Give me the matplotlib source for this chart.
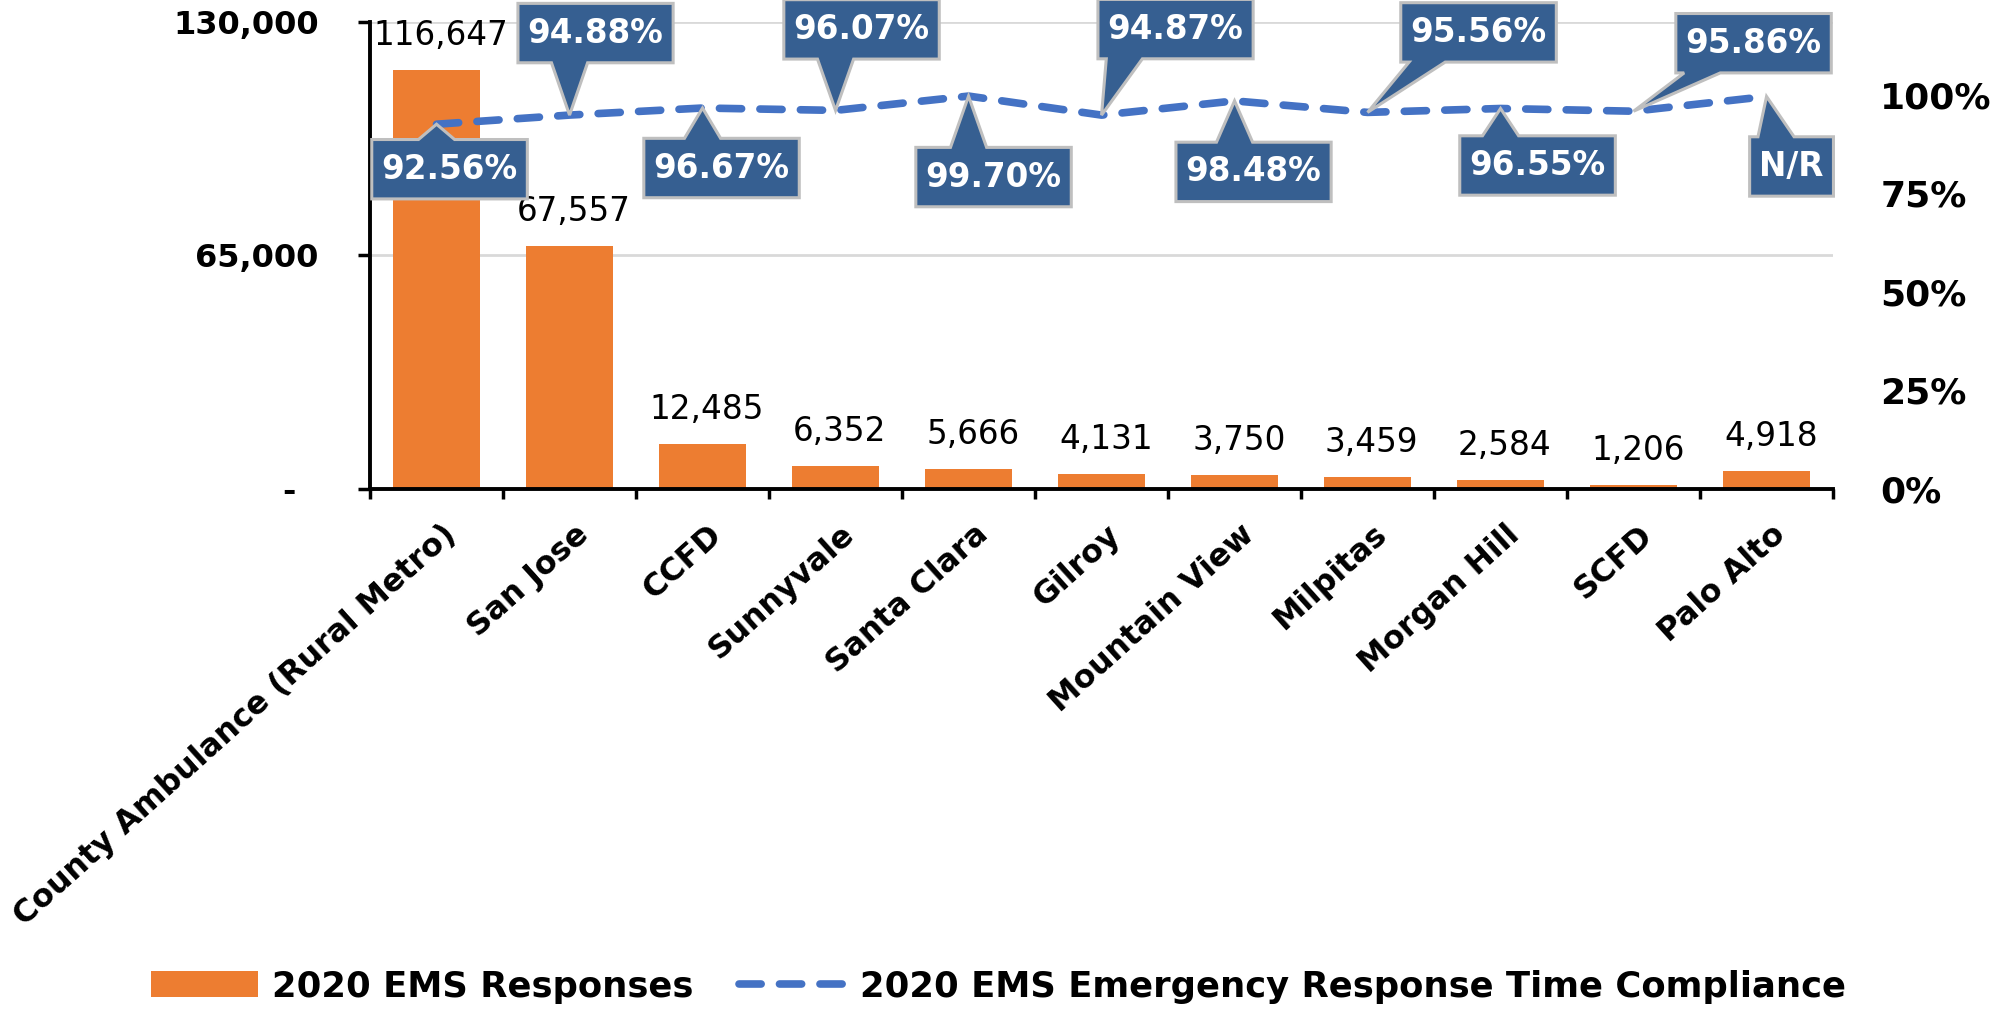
import numpy as np
import matplotlib
matplotlib.use('Agg')
import matplotlib.pyplot as plt
from matplotlib.patches import Polygon
from matplotlib.transforms import Affine2D, ScaledTranslation

# data
agencies = ['County Ambulance (Rural Metro)', 'San Jose', 'CCFD', 'Sunnyvale',
            'Santa Clara', 'Gilroy', 'Mountain View', 'Milpitas', 'Morgan Hill',
            'SCFD', 'Palo Alto']
responses = [116647, 67557, 12485, 6352, 5666, 4131, 3750, 3459, 2584, 1206, 4918]
compliance = [92.56, 94.88, 96.67, 96.07, 99.70, 94.87, 98.48, 95.56, 96.55, 95.86, 99.6]
compliance_labels = ['92.56%', '94.88%', '96.67%', '96.07%', '99.70%', '94.87%',
                     '98.48%', '95.56%', '96.55%', '95.86%', 'N/R']
left_ticks = [0, 65000, 130000]
left_ticklabels = ['-  ', '65,000', '130,000']
right_ticks = [0, 25, 50, 75, 100]

# callout box offsets from the point, in pixels (x right, y down)
callout_px = [(13, 45), (26, -82), (19, 60), (26, -81), (25, 81), (74, -86),
              (19, 71), (111, -80), (37, 57), (120, -68), (25, 70)]

orange = '#ED7D31'
blue = '#4472C4'
box_blue = '#365F91'

fig = plt.figure(figsize=(19.97, 10.09), dpi=100)
ax = fig.add_axes([0.1853, 0.5154, 0.7326, 0.4628])
x = np.arange(len(agencies))

bars = ax.bar(x, responses, width=0.66, color=orange, zorder=2,
              label='2020 EMS Responses')
for xi, v in zip(x, responses):
    ax.annotate(f'{v:,}', xy=(xi, v), xytext=(3, 18), textcoords='offset points',
                ha='center', va='baseline', fontsize=23.5, color='black')

ax.set_xlim(-0.5, len(agencies) - 0.5)
ax.set_ylim(0, 130000)
ax.set_yticks(left_ticks)
ax.set_yticklabels(left_ticklabels, fontsize=23, fontweight='bold')
ax.tick_params(axis='y', length=9, width=2.5, pad=28)
ax.yaxis.grid(True, color='#D9D9D9', lw=2)
ax.set_axisbelow(True)

ax.set_xticks(x)
ax.set_xticklabels(agencies, rotation=42, ha='right', va='center',
                   rotation_mode='anchor', fontsize=22.7, fontweight='bold')
ax.set_xticks(np.arange(-0.5, len(agencies), 1), minor=True)
ax.tick_params(axis='x', which='major', length=0, pad=30)
ax.tick_params(axis='x', which='minor', length=7, width=2.5)
shift = ScaledTranslation(15 / 100, 0, fig.dpi_scale_trans)
for lab in ax.get_xticklabels():
    lab.set_transform(lab.get_transform() + shift)

for side in ['top', 'right']:
    ax.spines[side].set_visible(False)
for side in ['left', 'bottom']:
    ax.spines[side].set_linewidth(2.8)

ax2 = ax.twinx()
line, = ax2.plot(x, compliance, color=blue, lw=5.5, ls=(0, (2.9, 2.4)),
                 dash_capstyle='round', zorder=3,
                 label='2020 EMS Emergency Response Time Compliance')
ax2.set_ylim(0, 118.5)
ax2.set_yticks(right_ticks)
ax2.set_yticklabels([f'{t}%' for t in right_ticks], fontsize=26, fontweight='bold')
ax2.tick_params(axis='y', length=0, pad=34)
for side in ax2.spines:
    ax2.spines[side].set_visible(False)

# callouts: box + pointer drawn as one polygon, in points relative to the data point
renderer = fig.canvas.get_renderer()
pad_x, pad_y = 7, 9.5   # pt around text
half_base = 13          # pt, half width of pointer base
for xi, v, lbl, (dx, dy) in zip(x, compliance, compliance_labels, callout_px):
    cx, cy = dx * 0.72, -dy * 0.72
    t = ax2.annotate(lbl, xy=(xi, v), xytext=(cx, cy), textcoords='offset points',
                     ha='center', va='center', fontsize=23.5, fontweight='bold',
                     color='white', zorder=6)
    ext = t.get_window_extent(renderer)
    w = ext.width * 72 / fig.dpi + 2 * pad_x
    h = ext.height * 72 / fig.dpi + 2 * pad_y
    L, R, B, T = cx - w / 2, cx + w / 2, cy - h / 2, cy + h / 2
    bx = min(max(0, L + half_base + 6), R - half_base - 6)
    if cy < 0:  # box below the point, pointer on top edge
        verts = [(L, B), (R, B), (R, T), (bx + half_base, T), (0, 0),
                 (bx - half_base, T), (L, T)]
    else:       # box above the point, pointer on bottom edge
        verts = [(L, T), (R, T), (R, B), (bx + half_base, B), (0, 0),
                 (bx - half_base, B), (L, B)]
    trans = (Affine2D().scale(1 / 72) + fig.dpi_scale_trans
             + ScaledTranslation(xi, v, ax2.transData))
    ax2.add_patch(Polygon(verts, closed=True, fc=box_blue, ec='#BFBFBF', lw=2.2,
                          joinstyle='miter', transform=trans, clip_on=False,
                          zorder=5))

fig.legend(handles=[bars, line], loc='center', bbox_to_anchor=(0.5, 0.022),
           ncol=2, frameon=False, prop=dict(weight='bold', size=25.5),
           handlelength=3.0, handleheight=0.75, handletextpad=0.4,
           columnspacing=1.3)

fig.savefig('out.png', dpi=100)
